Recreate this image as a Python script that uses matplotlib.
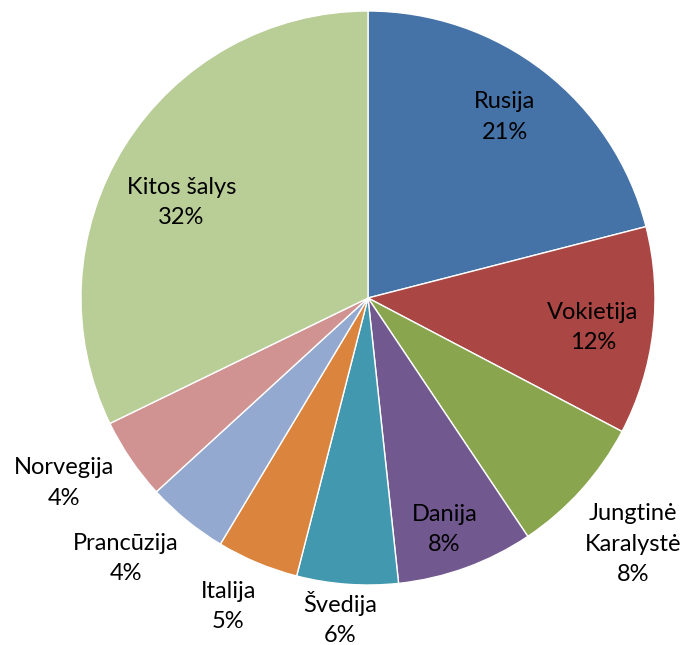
import numpy as np
import matplotlib
matplotlib.use("Agg")
import matplotlib.pyplot as plt

countries = ["Rusija", "Vokietija", "Jungtinė\nKaralystė", "Danija", "Švedija",
             "Italija", "Prancūzija", "Norvegija", "Kitos šalys"]
shares = [21.0, 11.7, 7.9, 7.7, 5.7, 4.6, 4.6, 4.6, 32.2]
pct_labels = ["21%", "12%", "8%", "8%", "6%", "5%", "4%", "4%", "32%"]
colors = ["#4572A7", "#AA4643", "#89A54E", "#71588F", "#4198AF",
          "#DB843D", "#93A9CF", "#D19392", "#B9CD96"]

# label placement (styling): radial distance and angular tweak per wedge
label_dist = [0.79, 0.79, 1.26, 0.85, 1.12, 1.18, 1.24, 1.24, 0.73]
label_dang = [0.7, -0.8, -1.0, -1.7, -0.9, -1.7, -3.7, -2.9, 5.0]

fig = plt.figure(figsize=(6.86, 6.45), dpi=100)
cx, cy, r = 368 / 686, 1 - 298 / 645, 287
ax = fig.add_axes([cx - r / 686, cy - r / 645, 2 * r / 686, 2 * r / 645])
wedges, _ = ax.pie(shares, colors=colors, startangle=90, counterclock=False,
                   radius=1.0, wedgeprops=dict(edgecolor="white", linewidth=1.0))
ax.set_xlim(-1, 1)
ax.set_ylim(-1, 1)
ax.set_aspect("equal")
ax.axis("off")

for w, name, pl, d, da in zip(wedges, countries, pct_labels, label_dist, label_dang):
    ang = np.deg2rad((w.theta1 + w.theta2) / 2 + da)
    ax.text(d * np.cos(ang), d * np.sin(ang), f"{name}\n{pl}",
            ha="center", va="center", multialignment="center",
            fontsize=17, family=["Lato", "DejaVu Sans"], color="black",
            linespacing=1.55, clip_on=False)

fig.savefig("out.png", dpi=100)
